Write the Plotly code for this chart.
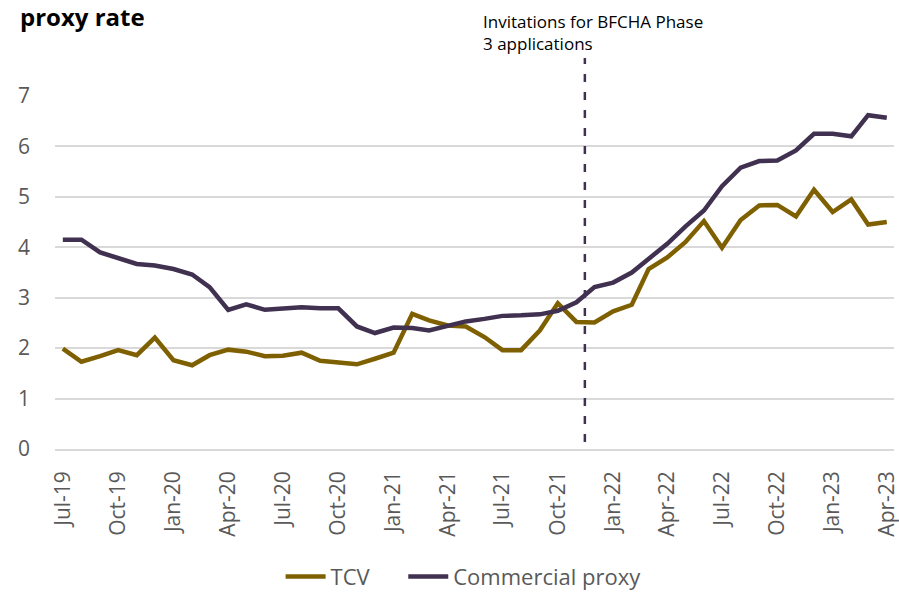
import pandas as pd
import plotly.graph_objects as go

months = pd.date_range("2019-07-01", "2023-04-01", freq="MS")

tcv = [1.99, 1.73, 1.84, 1.96, 1.86, 2.21, 1.76, 1.66, 1.86, 1.97,
       1.93, 1.84, 1.85, 1.91, 1.75, 1.72, 1.68, 1.79, 1.91, 2.68,
       2.55, 2.45, 2.43, 2.22, 1.96, 1.96, 2.35, 2.89, 2.52, 2.51,
       2.73, 2.86, 3.57, 3.80, 4.10, 4.52, 3.99, 4.54, 4.83, 4.84,
       4.61, 5.14, 4.70, 4.95, 4.45, 4.50]

commercial = [4.15, 4.15, 3.90, 3.79, 3.67, 3.64, 3.57, 3.46, 3.21, 2.76,
              2.87, 2.76, 2.79, 2.81, 2.79, 2.79, 2.43, 2.30, 2.41, 2.40,
              2.35, 2.43, 2.53, 2.58, 2.64, 2.65, 2.67, 2.74, 2.91, 3.21,
              3.30, 3.50, 3.77, 4.07, 4.41, 4.73, 5.21, 5.58, 5.71, 5.72,
              5.92, 6.25, 6.25, 6.20, 6.62, 6.57]

tick_dates = pd.date_range("2019-07-01", "2023-04-01", freq="3MS")
tick_labels = ["Jul-19", "Oct-19", "Jan-20", "Apr-20", "Jul-20", "Oct-20",
               "Jan-21", "Apr-21", "Jul-21", "Oct-21", "Jan-22", "Apr-22",
               "Jul-22", "Oct-22", "Jan-23", "Apr-23"]

event_date = "2021-11-15"
event_text = "Invitations for BFCHA Phase<br>3 applications"
title_text = "<b>proxy rate</b>"

FONT = "Open Sans"
GREY = "#595959"

fig = go.Figure()
fig.add_trace(go.Scatter(x=months, y=tcv, mode="lines", name="TCV" + "&nbsp;" * 5,
                         line=dict(color="#7F6000", width=4.5)))
fig.add_trace(go.Scatter(x=months, y=commercial, mode="lines", name="Commercial proxy",
                         line=dict(color="#403151", width=4.5)))

fig.add_shape(type="line", xref="x", yref="paper", x0=event_date, x1=event_date,
              y0=0.02, y1=1.108, line=dict(color="#403151", width=2.5, dash="8px,10px"))

fig.add_annotation(xref="paper", yref="paper", x=0.508, y=1.181, xanchor="left",
                   yanchor="middle", align="left", text=event_text, showarrow=False,
                   font=dict(family=FONT, size=17, color="#000000"))

fig.add_annotation(xref="paper", yref="paper", x=-0.0440, y=1.225, xanchor="left",
                   yanchor="middle", align="left", text=title_text, showarrow=False,
                   font=dict(family=FONT, size=24, color="#000000"))

fig.update_layout(
    width=899, height=594,
    margin=dict(l=55, r=5, t=96, b=145, autoexpand=False),
    paper_bgcolor="white", plot_bgcolor="white",
    font=dict(family=FONT, color=GREY),
    showlegend=True,
    legend=dict(orientation="h", x=0.487, xanchor="center", y=-0.362, yanchor="middle",
                font=dict(family=FONT, size=22, color=GREY), itemwidth=40),
    xaxis=dict(type="date", range=["2019-06-18", "2023-04-13"],
               tickvals=tick_dates, ticktext=tick_labels, tickangle=-90,
               tickfont=dict(family=FONT, size=21, color=GREY),
               showgrid=False, showline=True, linecolor="#d9d9d9", linewidth=1.5,
               ticks="", ticklabelstandoff=12, automargin=False,
               ticklabeloverflow="allow"),
    yaxis=dict(range=[0, 7], dtick=1, showgrid=True, gridcolor="#d9d9d9", gridwidth=1.5,
               zeroline=False, showline=False, ticks="", automargin=False,
               tickfont=dict(family=FONT, size=21, color=GREY), ticklabelstandoff=24),
)

fig.write_html("out.html", config={"displayModeBar": False},
               post_script="document.body.style.margin='0';document.body.style.overflow='hidden';")
